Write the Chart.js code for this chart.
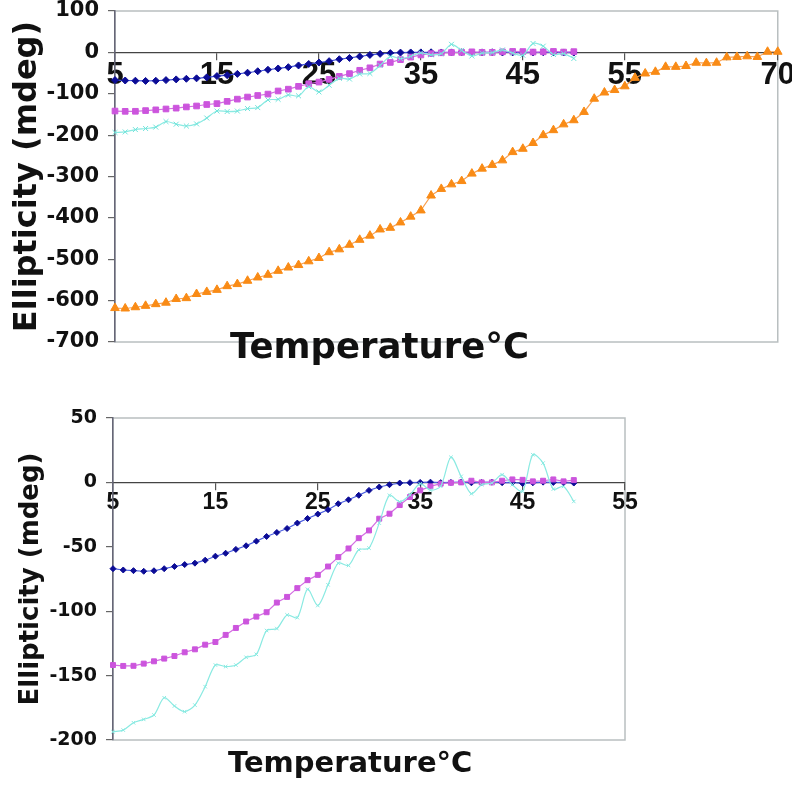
<!DOCTYPE html>
<html>
<head>
<meta charset="utf-8">
<script src="https://cdn.jsdelivr.net/npm/chart.js@4.4.1/dist/chart.umd.min.js"></script>
<style>
body { margin: 0; background: #fff; width: 792px; height: 786px; position: relative; overflow: hidden; }
canvas { position: absolute; left: 0; }
.xtitle { position: absolute; font-family: "DejaVu Sans", sans-serif; font-weight: bold; color: #111; white-space: nowrap; }
</style>
</head>
<body>
<canvas id="topChart" width="792" height="360" style="top:0"></canvas>
<div class="xtitle" id="topTitle" style="left:230px; top:325px; font-size:35.5px;">Temperature°C</div>
<canvas id="bottomChart" width="640" height="362" style="top:390px"></canvas>
<div class="xtitle" id="bottomTitle" style="left:228px; top:745px; font-size:29px;">Temperature°C</div>
<script>
//data
const temps = [5,6,7,8,9,10,11,12,13,14,15,16,17,18,19,20,21,22,23,24,25,26,27,28,29,30,31,32,33,34,35,36,37,38,39,40,41,42,43,44,45,46,47,48,49,50];
const tempsLong = [5,6,7,8,9,10,11,12,13,14,15,16,17,18,19,20,21,22,23,24,25,26,27,28,29,30,31,32,33,34,35,36,37,38,39,40,41,42,43,44,45,46,47,48,49,50,51,52,53,54,55,56,57,58,59,60,61,62,63,64,65,66,67,68,69,70];

const blue = [-67,-68,-68.5,-69,-68.6,-67,-65.3,-63.8,-62.7,-60.4,-57.3,-55,-52,-49.2,-45.6,-42,-38.9,-35.8,-31.6,-28,-24.6,-21.2,-16.6,-13.5,-10,-6.2,-3.6,-1.8,-0.5,-0.2,0,0.2,-0.2,0,0.3,-0.3,0,0.2,-0.2,0,-0.8,-0.3,0.2,0,-0.2,-0.5];
const pink = [-141.8,-142.5,-142.4,-140.7,-138.9,-136.8,-134.8,-131.9,-129.6,-126,-123.9,-118.4,-113,-108,-104.2,-100.8,-93.3,-88.9,-82.1,-75.9,-71.8,-65.3,-58,-51.3,-43.3,-37.3,-28.2,-24.3,-17.6,-11.4,-6.2,-3.1,-1,-0.3,0,1.3,0,0,1.3,2.3,2,0.8,1.3,2.3,0.8,1.8];
const cyan = [-193.6,-192.3,-186.6,-184,-180.6,-167.2,-173.6,-178,-172.9,-158.6,-141.8,-143,-141.8,-135.8,-133.5,-115,-113.5,-102.9,-105,-83,-95.6,-79.5,-62.7,-64.5,-52.3,-51,-31.6,-10,-15,-9.6,-1,-6,-3,19.5,4.7,-8.8,-1.8,-0.5,6,-1.8,-7,21.5,15,-5.2,-3.1,-14.8];
const orange = [-618,-619,-616,-612.6,-608.5,-605,-596,-594,-584,-579,-574,-565,-560,-552,-544,-537.5,-528,-520,-514,-505,-497,-483,-476,-465,-453,-443,-428,-424,-411,-397,-382,-346,-330,-319,-311,-293,-281,-272,-261,-241,-233,-219,-200,-188,-174,-164,-144,-112,-97,-91,-82,-61.5,-51,-47,-35,-35,-33,-25,-26,-25,-12,-11,-9.5,-11,1.5,1.5];

const topXTicks = [5,15,25,35,45,55,65,70];
const topXLabels = ['5','15','25','35','45','55','','70'];
const topYTicks = [100,0,-100,-200,-300,-400,-500,-600,-700];
const bottomXTicks = [5,15,25,35,45,55];
const bottomXLabels = ['5','15','25','35','45','55'];
const bottomYTicks = [50,0,-50,-100,-150,-200];

function pts(xs, ys) {
    return xs.map((x, i) => ({x: x, y: ys[i]}));
}

//frame round the plot area
const framePlugin = {
    id: 'frame',
    beforeDraw(chart) {
        const a = chart.chartArea;
        const ctx = chart.ctx;
        ctx.save();
        ctx.strokeStyle = '#b9bfc0';
        ctx.lineWidth = 1.5;
        ctx.strokeRect(a.left, a.top, a.right - a.left, a.bottom - a.top);
        ctx.restore();
    }
};

function series(xs, ys, color, lineColor, style, radius, tension) {
    return {
        data: pts(xs, ys),
        borderColor: lineColor,
        backgroundColor: color,
        pointBorderColor: color,
        pointBackgroundColor: color,
        pointStyle: style,
        pointRadius: radius,
        pointBorderWidth: 1,
        borderWidth: 1.2,
        tension: tension,
        clip: false
    };
}

function makeChart(id, cfg) {
    return new Chart(document.getElementById(id), {
        type: 'line',
        data: {datasets: cfg.datasets},
        options: {
            responsive: false,
            animation: false,
            events: [],
            layout: {padding: cfg.padding},
            plugins: {legend: {display: false}, tooltip: {enabled: false}},
            scales: {
                x: {
                    type: 'linear',
                    min: cfg.xTicks[0],
                    max: cfg.xTicks[cfg.xTicks.length - 1],
                    position: {y: 0},
                    afterBuildTicks: s => { s.ticks = cfg.xTicks.map(v => ({value: v})); },
                    ticks: {
                        autoSkip: false,
                        maxRotation: 0,
                        padding: cfg.xPad,
                        color: '#111',
                        font: {family: 'Liberation Sans', weight: 'bold', size: cfg.xFont},
                        callback: (v, i) => cfg.xLabels[i]
                    },
                    grid: {drawOnChartArea: false, tickLength: 7, color: '#555', lineWidth: 1.2},
                    border: {color: '#444', width: 1.3}
                },
                y: {
                    min: cfg.yTicks[cfg.yTicks.length - 1],
                    max: cfg.yTicks[0],
                    afterBuildTicks: s => { s.ticks = cfg.yTicks.map(v => ({value: v})); },
                    afterFit: s => { s.width = cfg.yWidth; s.paddingTop = 0; s.paddingBottom = 0; },
                    ticks: {
                        padding: 9,
                        color: '#111',
                        font: {family: 'DejaVu Sans', weight: 'bold', size: cfg.yFont}
                    },
                    grid: {drawOnChartArea: false, tickLength: 7, color: '#666', lineWidth: 1.2},
                    border: {color: '#667', width: 1.5},
                    title: {
                        display: true,
                        text: 'Ellipticity (mdeg)',
                        color: '#111',
                        padding: {top: cfg.titlePad, bottom: 0},
                        font: {family: 'DejaVu Sans', weight: 'bold', size: cfg.titleFont}
                    }
                }
            }
        },
        plugins: [framePlugin]
    });
}

makeChart('topChart', {
    padding: {left: 0, top: 11, right: 14, bottom: 18},
    xTicks: topXTicks,
    xLabels: topXLabels,
    yTicks: topYTicks,
    yWidth: 115,
    xFont: 31,
    xPad: -3,
    yFont: 21,
    titleFont: 32,
    titlePad: 8,
    datasets: [
        series(tempsLong, orange, '#f98b16', '#f9a050', 'triangle', 5, 0),
        series(temps, cyan, '#6fe3da', '#8aeae2', 'crossRot', 3.5, 0.3),
        series(temps, pink, '#cc55dd', '#d46ee2', 'rect', 4, 0),
        series(temps, blue, '#0c0c96', '#4455dd', 'rectRot', 3.5, 0)
    ]
});

makeChart('bottomChart', {
    padding: {left: 0, top: 28, right: 15, bottom: 12},
    xTicks: bottomXTicks,
    xLabels: bottomXLabels,
    yTicks: bottomYTicks,
    yWidth: 113,
    xFont: 23,
    xPad: -1,
    yFont: 19,
    titleFont: 26,
    titlePad: 16,
    datasets: [
        series(temps, cyan, '#8aeae2', '#8aeae2', 'crossRot', 2.5, 0.3),
        series(temps, pink, '#cc55dd', '#d46ee2', 'rect', 3.5, 0),
        series(temps, blue, '#0c0c96', '#4a5ee0', 'rectRot', 3, 0)
    ]
});
</script>
</body>
</html>
